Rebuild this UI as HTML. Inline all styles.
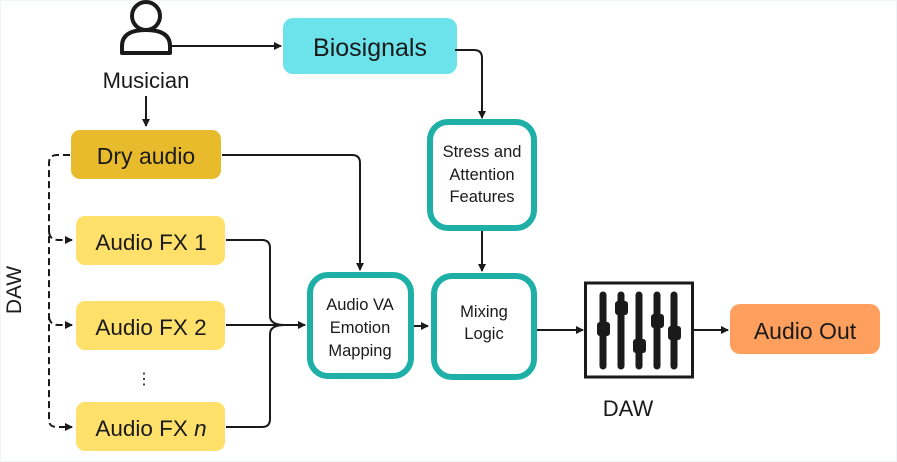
<!DOCTYPE html>
<html><head><meta charset="utf-8"><style>
html,body{margin:0;padding:0;background:#fff}
svg{display:block}
text{font-family:"Liberation Sans",sans-serif;fill:#1a1a1a}
</style></head><body>
<svg width="897" height="462" viewBox="0 0 897 462" xmlns="http://www.w3.org/2000/svg">
<defs>
<marker id="a" markerWidth="8" markerHeight="8" refX="7" refY="4" orient="auto" markerUnits="userSpaceOnUse">
<path d="M0,0 L8,4 L0,8 z" fill="#1a1a1a"/></marker>
</defs>
<rect x="0.5" y="0.5" width="896" height="461" fill="#fff" stroke="#eef6f8"/>
<!-- person -->
<circle cx="146" cy="16" r="14" fill="none" stroke="#1a1a1a" stroke-width="4"/>
<path d="M122,53 L122,46 Q122,30 146,30 Q170,30 170,46 L170,53 Z" fill="none" stroke="#1a1a1a" stroke-width="4" stroke-linejoin="round"/>
<text x="146" y="88" font-size="22" text-anchor="middle">Musician</text>
<!-- biosignals -->
<rect x="283" y="18" width="174" height="56" rx="10" fill="#6ce3ea"/>
<text x="370" y="56" font-size="25" text-anchor="middle">Biosignals</text>
<path d="M172,46 H281" stroke="#1a1a1a" stroke-width="2" fill="none" marker-end="url(#a)"/>
<path d="M146,96 V126" stroke="#1a1a1a" stroke-width="2" fill="none" marker-end="url(#a)"/>
<path d="M455,50 H474 Q482,50 482,58 V118" stroke="#1a1a1a" stroke-width="2" fill="none" marker-end="url(#a)"/>
<!-- stress -->
<rect x="430" y="122" width="104" height="106" rx="18" fill="#fff" stroke="#1eb0a6" stroke-width="6"/>
<text font-size="16.5" text-anchor="middle"><tspan x="482" y="157">Stress and</tspan><tspan x="482" y="180">Attention</tspan><tspan x="482" y="202">Features</tspan></text>
<path d="M482,231 V271" stroke="#1a1a1a" stroke-width="2" fill="none" marker-end="url(#a)"/>
<!-- dry audio -->
<rect x="71" y="130" width="150" height="49" rx="9" fill="#e8bb2c"/>
<text x="146" y="164" font-size="23" text-anchor="middle">Dry audio</text>
<path d="M222,155 H352 Q360,155 360,163 V270" stroke="#1a1a1a" stroke-width="2" fill="none" marker-end="url(#a)"/>
<!-- FX boxes -->
<rect x="76" y="216" width="149" height="49" rx="9" fill="#ffe06b"/>
<text x="151" y="250" font-size="22.5" text-anchor="middle">Audio FX 1</text>
<rect x="76" y="301" width="149" height="49" rx="9" fill="#ffe06b"/>
<text x="151" y="335" font-size="22.5" text-anchor="middle">Audio FX 2</text>
<rect x="76" y="402" width="149" height="49" rx="9" fill="#ffe06b"/>
<text x="151" y="436" font-size="22.5" text-anchor="middle">Audio FX <tspan font-style="italic">n</tspan></text>
<text x="144" y="384" font-size="16" text-anchor="middle">⋮</text>
<!-- dashed -->
<path d="M70,155 H57 Q49,155 49,163 V420 Q49,427 57,427 H72" stroke="#1a1a1a" stroke-width="2" stroke-dasharray="7,4" fill="none" marker-end="url(#a)"/>
<path d="M49,232 Q50,240 58,240 H72" stroke="#1a1a1a" stroke-width="2" stroke-dasharray="7,4" fill="none" marker-end="url(#a)"/>
<path d="M49,317 Q50,325 58,325 H72" stroke="#1a1a1a" stroke-width="2" stroke-dasharray="7,4" fill="none" marker-end="url(#a)"/>
<text transform="translate(21,290) rotate(-90)" font-size="21" text-anchor="middle">DAW</text>
<!-- FX merge -->
<path d="M226,240 H262 Q270,240 270,248 V316 Q270,325 285,325" stroke="#1a1a1a" stroke-width="2" fill="none"/>
<path d="M226,427 H262 Q270,427 270,419 V334 Q270,325 285,325" stroke="#1a1a1a" stroke-width="2" fill="none"/>
<path d="M226,325 H305" stroke="#1a1a1a" stroke-width="2" fill="none" marker-end="url(#a)"/>
<!-- Audio VA -->
<rect x="310" y="275" width="101" height="101" rx="18" fill="#fff" stroke="#1eb0a6" stroke-width="6"/>
<text font-size="16.5" text-anchor="middle"><tspan x="360" y="310">Audio VA</tspan><tspan x="360" y="333">Emotion</tspan><tspan x="360" y="356">Mapping</tspan></text>
<path d="M414,326 H428" stroke="#1a1a1a" stroke-width="2" fill="none" marker-end="url(#a)"/>
<!-- Mixing -->
<rect x="434" y="276" width="100" height="101" rx="18" fill="#fff" stroke="#1eb0a6" stroke-width="6"/>
<text font-size="16.5" text-anchor="middle"><tspan x="484" y="317">Mixing</tspan><tspan x="484" y="339">Logic</tspan></text>
<path d="M537,330 H583" stroke="#1a1a1a" stroke-width="2" fill="none" marker-end="url(#a)"/>
<!-- DAW icon -->
<rect x="585.5" y="283" width="107" height="94" fill="#fff" stroke="#1a1a1a" stroke-width="3"/>
<g stroke="#1a1a1a" stroke-width="7" stroke-linecap="round">
<path d="M603,295 V366"/><path d="M621,295 V366"/><path d="M639,295 V366"/><path d="M657,295 V366"/><path d="M674,295 V366"/>
</g>
<g fill="#1a1a1a">
<rect x="597" y="322" width="13" height="14" rx="3"/>
<rect x="615" y="301" width="13" height="14" rx="3"/>
<rect x="633" y="339" width="13" height="14" rx="3"/>
<rect x="651" y="314" width="13" height="14" rx="3"/>
<rect x="668" y="326" width="13" height="14" rx="3"/>
</g>
<text x="628" y="416" font-size="22" text-anchor="middle">DAW</text>
<path d="M694,330 H728" stroke="#1a1a1a" stroke-width="2" fill="none" marker-end="url(#a)"/>
<rect x="730" y="304" width="150" height="50" rx="10" fill="#ff9f5e"/>
<text x="805" y="339" font-size="23" text-anchor="middle">Audio Out</text>
</svg>
</body></html>
